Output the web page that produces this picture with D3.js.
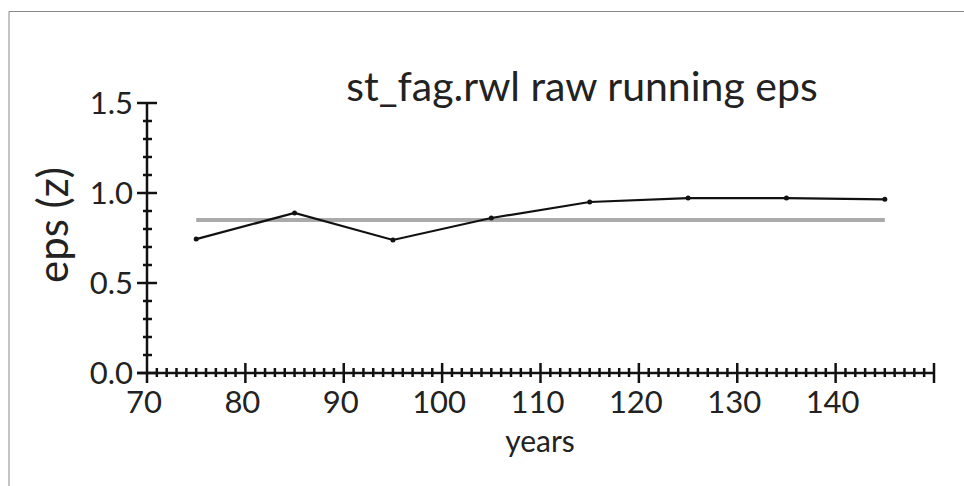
<!DOCTYPE html>
<html>
<head>
<meta charset="utf-8">
<script src="https://cdn.jsdelivr.net/npm/d3@7"></script>
<style>
  html, body { margin: 0; padding: 0; background: #fff; }
  svg { display: block; font-family: "Lato", "DejaVu Sans", sans-serif; }
</style>
</head>
<body>
<div id="chart"></div>
<script>
// running eps per window centre
const years = [75, 85, 95, 105, 115, 125, 135, 145];
const eps   = [0.744, 0.889, 0.739, 0.861, 0.950, 0.972, 0.972, 0.965];
const threshold = 0.85;
const xTicks = [70, 80, 90, 100, 110, 120, 130, 140];
const yTicks = [0.0, 0.5, 1.0, 1.5];

const W = 964, H = 486;
const svg = d3.select("#chart").append("svg").attr("width", W).attr("height", H);

// outer frame (top + left only visible)
svg.append("path").attr("d", `M9,${H} V11.5 H${W}`)
    .attr("fill", "none").attr("stroke", "#888").attr("stroke-width", 1);

const x = d3.scaleLinear().domain([70, 150]).range([147, 934]);
const y = d3.scaleLinear().domain([0, 1.5]).range([373, 103]);
const ink = "#111";
const txt = "#222";

// y axis
const gy = svg.append("g");
gy.append("line").attr("x1", x(70)).attr("x2", x(70)).attr("y1", y(1.5)).attr("y2", y(0) + 10)
    .attr("stroke", ink).attr("stroke-width", 2.5);
gy.selectAll("line.minor").data(d3.range(1, 15).map(i => i / 10).filter(v => Math.round(v * 10) % 5 !== 0))
  .enter().append("line")
    .attr("x1", x(70) - 4).attr("x2", x(70) + 5)
    .attr("y1", d => y(d)).attr("y2", d => y(d))
    .attr("stroke", ink).attr("stroke-width", 2.5);
gy.selectAll("line.major").data(yTicks).enter().append("line")
    .attr("x1", x(70) - 10).attr("x2", x(70) + 10)
    .attr("y1", d => y(d)).attr("y2", d => y(d))
    .attr("stroke", ink).attr("stroke-width", 2.5);
gy.selectAll("text").data(yTicks).enter().append("text")
    .attr("x", 133).attr("y", d => y(d)).attr("dy", "0.36em")
    .attr("text-anchor", "end").attr("font-size", 31).attr("fill", txt)
    .text(d => d3.format(".1f")(d));

// x axis
const gx = svg.append("g");
gx.append("line").attr("x1", x(70) - 10).attr("x2", x(150)).attr("y1", y(0)).attr("y2", y(0))
    .attr("stroke", ink).attr("stroke-width", 2.5);
gx.selectAll("line.minor").data(d3.range(71, 150).filter(v => v % 10 !== 0)).enter().append("line")
    .attr("x1", d => x(d)).attr("x2", d => x(d))
    .attr("y1", y(0) - 5).attr("y2", y(0) + 4)
    .attr("stroke", ink).attr("stroke-width", 2.5);
gx.selectAll("line.major").data(d3.range(80, 151, 10)).enter().append("line")
    .attr("x1", d => x(d)).attr("x2", d => x(d))
    .attr("y1", y(0) - 10).attr("y2", y(0) + 10)
    .attr("stroke", ink).attr("stroke-width", 2.5);
gx.selectAll("text").data(xTicks).enter().append("text")
    .attr("x", d => x(d) - 3).attr("y", 413)
    .attr("text-anchor", "middle").attr("font-size", 31).attr("fill", txt)
    .text(d => d);

// threshold line
svg.append("line")
    .attr("x1", x(years[0])).attr("x2", x(years[years.length - 1]))
    .attr("y1", y(threshold)).attr("y2", y(threshold))
    .attr("stroke", "#aaa").attr("stroke-width", 4);

// eps series
const pts = years.map((d, i) => [d, eps[i]]);
svg.append("path").datum(pts)
    .attr("d", d3.line().x(d => x(d[0])).y(d => y(d[1])))
    .attr("fill", "none").attr("stroke", ink).attr("stroke-width", 2.2);
svg.selectAll("circle").data(pts).enter().append("circle")
    .attr("cx", d => x(d[0])).attr("cy", d => y(d[1])).attr("r", 2.5).attr("fill", ink);

// labels
svg.append("text").attr("x", 582).attr("y", 101).attr("text-anchor", "middle")
    .attr("font-size", 41).attr("fill", txt).text("st_fag.rwl raw running eps");
svg.append("text").attr("x", 540).attr("y", 452).attr("text-anchor", "middle")
    .attr("font-size", 30).attr("fill", txt).text("years");
svg.append("text").attr("transform", "translate(68,225) rotate(-90)")
    .attr("text-anchor", "middle").attr("font-size", 42).attr("fill", txt).text("eps (z)");
</script>
</body>
</html>
